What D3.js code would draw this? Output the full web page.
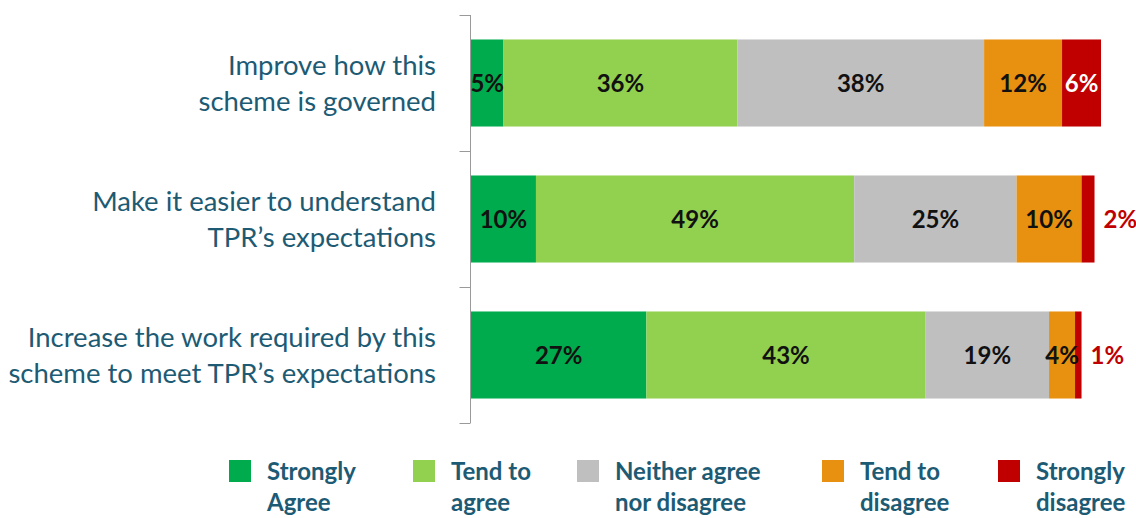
<!DOCTYPE html>
<html>
<head>
<meta charset="utf-8">
<script src="https://cdn.jsdelivr.net/npm/d3@7"></script>
<style>
  html, body { margin: 0; padding: 0; background: #fff; }
  svg { display: block; font-family: Lato, "Open Sans", sans-serif; }
</style>
</head>
<body>
<svg id="chart" width="1136" height="518"></svg>
<script>
// Survey statements (one bar each)
const categories = [
  ["Improve how this", "scheme is governed"],
  ["Make it easier to understand", "TPR\u2019s expectations"],
  ["Increase the work required by this", "scheme to meet TPR\u2019s expectations"]
];

// Response scale, left to right
const seriesNames = [
  ["Strongly", "Agree"],
  ["Tend to", "agree"],
  ["Neither agree", "nor disagree"],
  ["Tend to", "disagree"],
  ["Strongly", "disagree"]
];

// Percent of respondents per response, one array per statement
const stronglyAgree    = [5, 10, 27];
const tendToAgree      = [36, 49, 43];
const neither          = [38, 25, 19];
const tendToDisagree   = [12, 10, 4];
const stronglyDisagree = [6, 2, 1];

const seriesValues = [stronglyAgree, tendToAgree, neither, tendToDisagree, stronglyDisagree];
const colors = ["#00AB4E", "#92D050", "#BFBFBF", "#E8900F", "#C00000"];

const svg = d3.select("#chart");
const x0 = 471, xPerPct = 6.495;

const x = d3.scaleLinear().domain([0, 100]).range([x0, x0 + 100 * xPerPct]);
const y = d3.scaleBand().domain(d3.range(categories.length)).range([15, 423]).paddingInner(0.36).paddingOuter(0.18);

// rows for stacking
const rows = categories.map((c, i) => {
  const r = { idx: i };
  seriesValues.forEach((s, k) => r["s" + k] = s[i]);
  return r;
});
const keys = seriesValues.map((_, k) => "s" + k);
const stacked = d3.stack().keys(keys)(rows);

// axis line with band dividers
const yAxisScale = d3.scaleLinear().domain([0, 3]).range([15, 423]);
const axis = d3.axisLeft(yAxisScale).tickValues([0, 1, 2, 3]).tickSize(11).tickFormat("");
const axG = svg.append("g").attr("transform", `translate(${x0 - 0.5},0)`).call(axis);
axG.selectAll("path, line").attr("stroke", "#9a9a9a").attr("stroke-width", 1);
axG.select(".domain").attr("d", "M0,15V423");

// stacked segments
const layers = svg.append("g").selectAll("g").data(stacked).join("g")
  .attr("fill", (d, k) => colors[k]);
layers.selectAll("rect").data(d => d).join("rect")
  .attr("x", d => x(d[0]))
  .attr("y", d => y(d.data.idx))
  .attr("width", d => x(d[1]) - x(d[0]))
  .attr("height", y.bandwidth());

// value labels
const labelG = svg.append("g").attr("font-weight", 700).attr("font-size", 24);
stacked.forEach((layer, k) => {
  layer.forEach(d => {
    const v = d[1] - d[0];
    const small = k === 4 && v < 4;
    const t = labelG.append("text")
      .attr("y", y(d.data.idx) + y.bandwidth() / 2)
      .attr("dy", "0.36em")
      .text(v + "%");
    if (small) {
      t.attr("x", x(d[1]) + 9).attr("text-anchor", "start").attr("fill", "#C00000");
    } else {
      t.attr("x", (x(d[0]) + x(d[1])) / 2).attr("text-anchor", "middle")
        .attr("fill", k === 4 ? "#ffffff" : "#111111");
    }
  });
});

// category labels
const catG = svg.append("g").attr("font-size", 27.5).attr("fill", "#1D5B74").attr("text-anchor", "end");
categories.forEach((lines, i) => {
  const cy = y(i) + y.bandwidth() / 2;
  lines.forEach((ln, j) => {
    catG.append("text")
      .attr("x", 436)
      .attr("y", cy + (j - 0.5) * 36)
      .attr("dy", "0.36em")
      .text(ln);
  });
});

// legend
const legendX = [229, 413, 577, 822, 998];
const legG = svg.append("g").attr("font-size", 24).attr("font-weight", 700).attr("fill", "#1D5B74");
seriesNames.forEach((lines, k) => {
  legG.append("rect").attr("x", legendX[k]).attr("y", 460).attr("width", 22).attr("height", 22).attr("fill", colors[k]);
  lines.forEach((ln, j) => {
    legG.append("text").attr("x", legendX[k] + 38).attr("y", 480 + j * 31).text(ln);
  });
});
</script>
</body>
</html>
